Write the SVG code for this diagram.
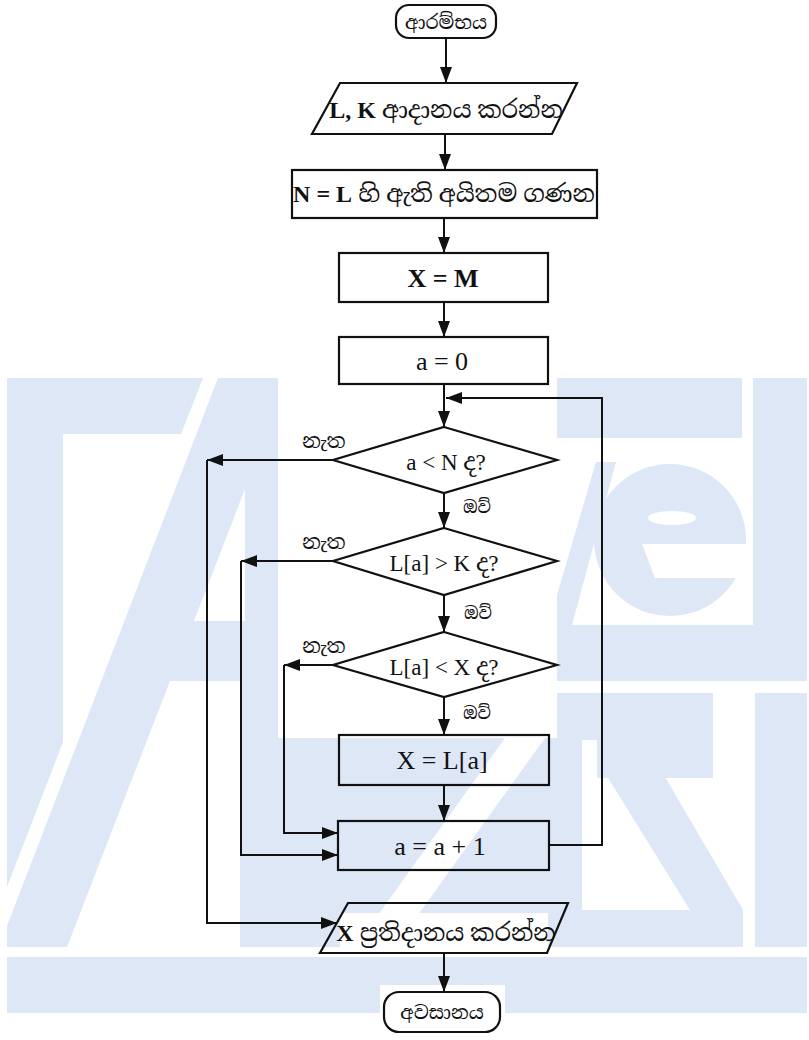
<svg xmlns="http://www.w3.org/2000/svg" width="809" height="1040" viewBox="0 0 809 1040">
<style>
.wm{fill:#dee7f6}
.wh{fill:#ffffff}
.box{fill:none;stroke:#111;stroke-width:2.2}
.cn{fill:none;stroke:#111;stroke-width:2}
.ar{marker-end:url(#ah)}
.t{font-family:"Liberation Serif","Noto Serif Sinhala","Noto Sans Sinhala",serif;fill:#111;text-anchor:middle;dominant-baseline:central}
.big{font-size:24px}
.num{font-size:26px}
.dia{font-size:23px}
.no{font-size:20px}
.yes{font-size:17px}
.term{font-size:19px}
.b{font-weight:bold}
</style>
<defs>
<marker id="ah" markerUnits="userSpaceOnUse" markerWidth="16" markerHeight="12" refX="16" refY="6" orient="auto">
<path d="M0,0 L16,6 L0,12 Z" fill="#111"/>
</marker>
</defs>
<rect width="809" height="1040" fill="#fff"/>
<g id="watermark">
<rect class="wm" x="7" y="378" width="800" height="569"/>
<rect class="wm" x="7" y="957" width="800" height="56"/>
<polygon class="wh" points="203,378 218,378 7,926 7,887 63,742 63,434 181,434"/>
<polygon class="wh" points="245,489 194,621 245,621"/>
<polygon class="wh" points="170,681 240,681 240,947 67,947"/>
<rect class="wh" x="278" y="378" width="279" height="360"/>
<polygon class="wh" points="505,738 545,738 395,947 355,947"/>
<rect class="wh" x="557" y="438" width="185" height="187"/>
<rect class="wh" x="742" y="378" width="11" height="247"/>
<polygon class="wm" points="596,462 616,462 572,625 557,625 557,595"/>
<circle class="wm" cx="670" cy="540" r="76"/>
<ellipse class="wh" cx="672" cy="518" rx="24" ry="7"/>
<polygon class="wh" points="642,544 748,544 748,578 655,578"/>
<rect class="wh" x="557" y="681" width="250" height="12"/>
<rect class="wh" x="557" y="693" width="198" height="254"/>
<rect class="wm" x="557" y="693" width="156" height="47"/>
<rect class="wm" x="597" y="740" width="116" height="38"/>
<polygon class="wm" points="597,760 655,760 743,910 690,910"/>
<rect class="wm" x="582" y="910" width="161" height="37"/>
<rect class="wm" x="557" y="740" width="25" height="207"/>
<rect class="wh" x="340" y="913" width="208" height="38"/>
<rect class="wh" x="380" y="985" width="125" height="55"/>
</g>
<g id="connectors">
<path class="cn ar" d="M446,38 V83"/>
<path class="cn ar" d="M445,134 V170"/>
<path class="cn ar" d="M444,218 V253"/>
<path class="cn ar" d="M444,302 V337"/>
<path class="cn ar" d="M444,384 V427"/>
<path class="cn ar" d="M549,845 H602 V398 H446"/>
<path class="cn ar" d="M444,493 V528"/>
<path class="cn ar" d="M444,595 V632"/>
<path class="cn ar" d="M444,697 V735"/>
<path class="cn ar" d="M444,785 V821"/>
<path class="cn ar" d="M333,460 H207"/>
<path class="cn ar" d="M207,460 V923 H337"/>
<path class="cn ar" d="M333,561 H241"/>
<path class="cn ar" d="M241,561 V855 H338"/>
<path class="cn ar" d="M333,665 H284"/>
<path class="cn ar" d="M284,665 V833 H338"/>
<path class="cn ar" d="M444,953 V992"/>
<text class="t no" x="324" y="441">නැත</text>
<text class="t no" x="324" y="542">නැත</text>
<text class="t no" x="324" y="646">නැත</text>
<text class="t yes" x="477" y="507">ඔව්</text>
<text class="t yes" x="478" y="613">ඔව්</text>
<text class="t yes" x="477" y="713">ඔව්</text>
</g>
<g id="start">
<rect class="box" x="396" y="5" width="100" height="33" rx="13"/>
<text class="t term" x="446" y="22">ආරම්භය</text>
</g>
<g id="input">
<polygon class="box" points="340,83 577,83 552,134 312,134"/>
<text class="t big" x="446" y="110"><tspan class="b">L, K</tspan> ආදානය කරන්න</text>
</g>
<g id="count">
<rect class="box" x="292" y="170" width="305" height="48"/>
<text class="t big" x="444" y="194"><tspan class="b">N = L</tspan> හි ඇති අයිතම ගණන</text>
</g>
<g id="xm">
<rect class="box" x="339" y="253" width="209" height="49"/>
<text class="t num b" x="443" y="278">X = M</text>
</g>
<g id="a0">
<rect class="box" x="339" y="337" width="209" height="47"/>
<text class="t num" x="442" y="361">a = 0</text>
</g>
<g id="d1">
<polygon class="box" points="444,427 557,460 444,493 333,460"/>
<text class="t dia" x="446" y="462">a &lt; N ද?</text>
</g>
<g id="d2">
<polygon class="box" points="444,528 557,561 444,595 333,561"/>
<text class="t dia" x="444" y="563">L[a] &gt; K ද?</text>
</g>
<g id="d3">
<polygon class="box" points="444,632 557,665 444,697 333,665"/>
<text class="t dia" x="444" y="667">L[a] &lt; X ද?</text>
</g>
<g id="xl">
<rect class="box" x="339" y="735" width="210" height="50"/>
<text class="t num" x="442" y="760">X = L[a]</text>
</g>
<g id="inc">
<rect class="box" x="338" y="821" width="211" height="49"/>
<text class="t num" x="440" y="846">a = a + 1</text>
</g>
<g id="output">
<polygon class="box" points="348,903 568,903 547,953 320,953"/>
<text class="t big" x="446" y="933"><tspan class="b">X</tspan> ප්‍රතිදානය කරන්න</text>
</g>
<g id="end">
<rect class="box" x="384" y="992" width="116" height="40" rx="15"/>
<text class="t term" x="442" y="1012">අවසානය</text>
</g>
</svg>
